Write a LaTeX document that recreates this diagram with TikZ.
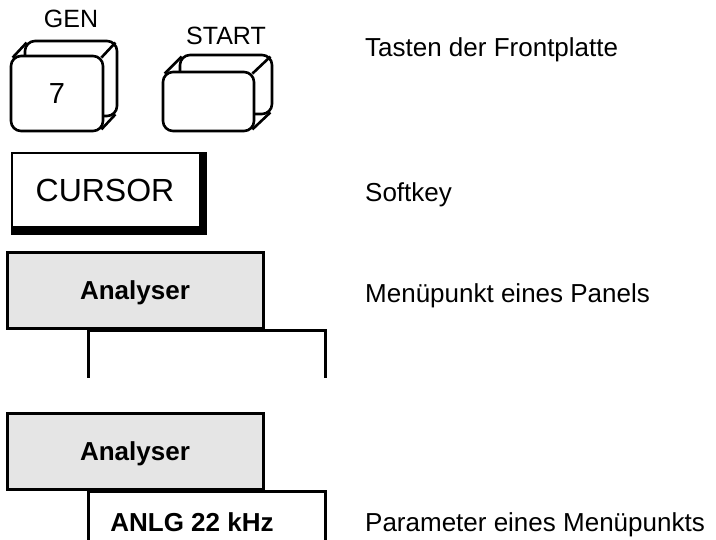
\documentclass[tikz,border=0pt]{standalone}
\usepackage{fontspec}
\setmainfont{Liberation Sans}
\usetikzlibrary{positioning}
\definecolor{menugray}{gray}{0.9}
\tikzset{
  keyface/.style={draw, fill=white, line width=2.6, rounded corners=10, inner sep=0},
  keyedge/.style={line width=2.6},
  keylabel/.style={inner sep=0, font=\fontsize{25}{30}\selectfont},
  legend/.style={anchor=base west, inner sep=0, font=\fontsize{26}{30}\selectfont},
  menubox/.style={draw, line width=3, fill=menugray, minimum width=256, minimum height=76,
    inner sep=0, text height=18.6, text depth=0, font=\fontsize{26}{30}\selectfont\bfseries},
}
\begin{document}
\begin{tikzpicture}[x=1pt, y=-1pt]
  \useasboundingbox (0,0) rectangle (716,540);
  % Keys of the front panel
  \node[keyface, minimum width=92, minimum height=75] (genback) at (71,78.5) {};
  \node[keyface, minimum width=92, minimum height=75, font=\fontsize{29}{32}\selectfont] (genkey) at (57,93.5) {7};
  \node[keylabel, above=12pt of genback] (gen) {GEN};
  \draw[keyedge] ([xshift=2.9,yshift=-2.9]genkey.north west) -- ([xshift=2.9,yshift=-2.9]genback.north west);
  \draw[keyedge] ([xshift=-2.9,yshift=-2.9]genkey.north east) -- ([xshift=-2.9,yshift=-2.9]genback.north east);
  \draw[keyedge] ([xshift=-2.9,yshift=2.9]genkey.south east) -- ([xshift=-2.9,yshift=2.9]genback.south east);
  \node[keyface, minimum width=92, minimum height=59] (startback) at (226,84.5) {};
  \node[keyface, minimum width=91, minimum height=59] (startkey) at (208.5,101.5) {};
  \node[keylabel, above=9pt of startback] (start) {START};
  \draw[keyedge] ([xshift=2.9,yshift=-2.9]startkey.north west) -- ([xshift=2.9,yshift=-2.9]startback.north west);
  \draw[keyedge] ([xshift=-2.9,yshift=-2.9]startkey.north east) -- ([xshift=-2.9,yshift=-2.9]startback.north east);
  \draw[keyedge] ([xshift=-2.9,yshift=2.9]startkey.south east) -- ([xshift=-2.9,yshift=2.9]startback.south east);
  % Softkey with shadow
  \fill (11,152) rectangle (207,235);
  \draw[line width=2.4, fill=white] (12,153) rectangle (200,227);
  \node[font=\fontsize{32}{36}\selectfont, inner sep=0] (cursor) at (105,190) {CURSOR};
  % Menu items
  \node[menubox] (menu) at (135,290.5) {Analyser};
  \draw[line width=3] (88,378) -- (88,331) -- (325,331) -- (325,378);
  \node[menubox] (menuset) at (135,451.5) {Analyser};
  \draw[line width=3] (88,542) -- (88,492) -- (325,492) -- (325,542);
  \node[anchor=base, inner sep=0, font=\fontsize{26}{30}\selectfont\bfseries] (anlg) at (192,532) {ANLG 22 kHz};
  % Legend texts
  \node[legend] (tasten) at (365,57) {Tasten der Frontplatte};
  \node[legend] (softkey) at (365,202) {Softkey};
  \node[legend] (menutext) at (365,303) {Menüpunkt eines Panels};
  \node[legend] (param) at (365,532) {Parameter eines Menüpunkts};
\end{tikzpicture}
\end{document}
